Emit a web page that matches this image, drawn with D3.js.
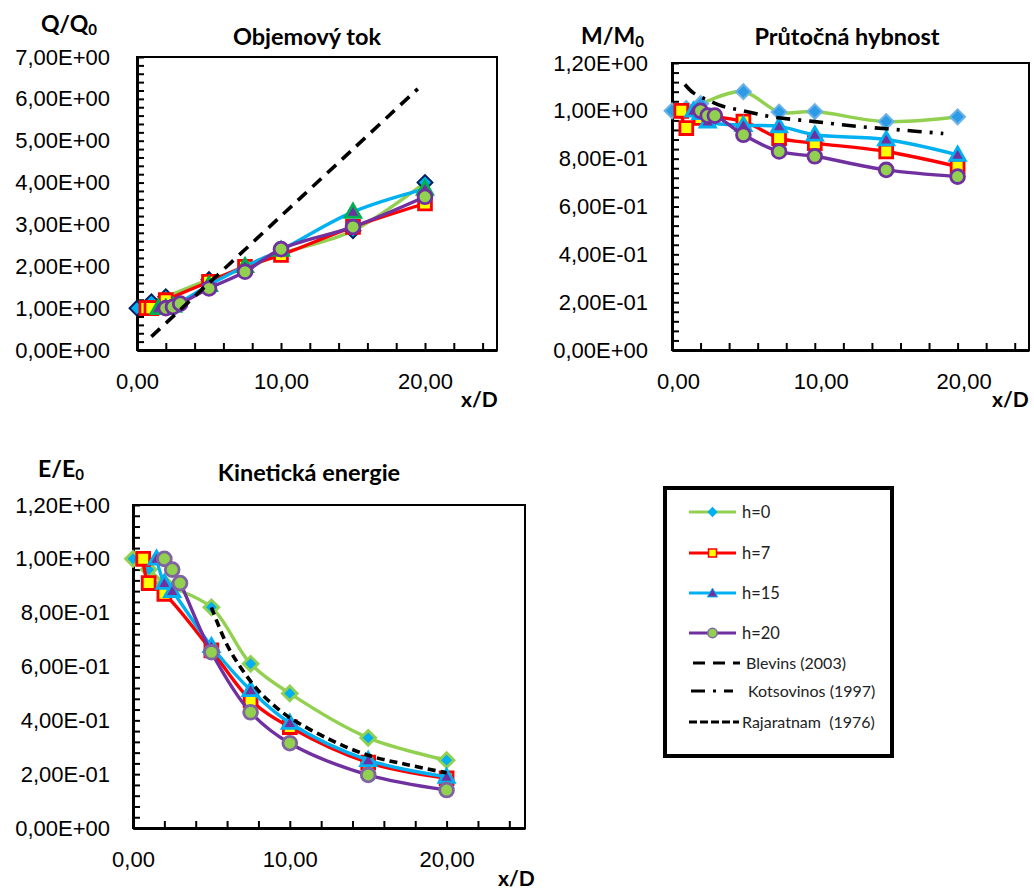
<!DOCTYPE html>
<html>
<head>
<meta charset="utf-8">
<script src="https://cdn.jsdelivr.net/npm/d3@7"></script>
<style>
  body { margin: 0; background: #fff; }
  svg { display: block; font-family: Lato, "Open Sans", sans-serif; }
</style>
</head>
<body>
<svg id="chart" width="1034" height="893"></svg>
<script>
// x/D stations of each nozzle-height series
const xH0  = [0, 1, 2, 5, 7.5, 10, 15, 20];
const xH7  = [0.65, 1, 2, 5, 7.5, 10, 15, 20];
const xH15 = [1.5, 2, 2.5, 5, 7.5, 10, 15, 20];
const xH20 = [2, 2.5, 3, 5, 7.5, 10, 15, 20];

// Volume flux Q/Q0
const qH0  = [1.0, 1.15, 1.27, 1.68, 1.95, 2.3, 2.85, 4.0];
const qH7  = [1.0, 1.0, 1.19, 1.63, 1.99, 2.27, 2.94, 3.5];
const qH15 = [1.0, 1.0, 1.05, 1.55, 2.0, 2.39, 3.3, 3.85];
const qH20 = [1.0, 1.03, 1.11, 1.47, 1.87, 2.41, 2.94, 3.66];

// Momentum flux M/M0
const mH0  = [1.0, 1.01, 1.03, 1.08, 0.995, 0.997, 0.955, 0.975];
const mH7  = [1.0, 0.928, 0.97, 0.955, 0.886, 0.865, 0.83, 0.767];
const mH15 = [1.0, 0.99, 0.955, 0.94, 0.935, 0.90, 0.88, 0.816];
const mH20 = [1.0, 0.98, 0.98, 0.90, 0.83, 0.81, 0.753, 0.725];

// Kinetic energy flux E/E0
const eH0  = [1.0, 0.96, 0.91, 0.82, 0.61, 0.50, 0.335, 0.252];
const eH7  = [1.0, 0.91, 0.87, 0.66, 0.475, 0.375, 0.243, 0.185];
const eH15 = [1.0, 0.91, 0.88, 0.675, 0.512, 0.39, 0.252, 0.19];
const eH20 = [1.0, 0.96, 0.91, 0.653, 0.43, 0.315, 0.197, 0.141];

// Literature curves
const blevinsX = [1, 5, 10, 15, 19.5];
const blevinsQ = [0.32, 1.6, 3.2, 4.8, 6.24];
const kotsX = [0.9, 1.5, 2.5, 3.5, 5, 7, 10, 13, 16, 19];
const kotsM = [1.11, 1.075, 1.045, 1.02, 1.0, 0.975, 0.955, 0.935, 0.92, 0.905];
const rajX = [5, 6, 7, 8, 9, 10, 12.5, 15, 17.5, 20];
const rajE = [0.82, 0.68, 0.585, 0.51, 0.455, 0.41, 0.33, 0.27, 0.235, 0.205];

// Axis ticks and labels
const xTicks = [0, 2, 4, 6, 8, 10, 12, 14, 16, 18, 20, 22, 24];
const xLabels = {0: "0,00", 10: "10,00", 20: "20,00"};
const qTicks = [0, 1, 2, 3, 4, 5, 6, 7];
const qLabels = ["0,00E+00", "1,00E+00", "2,00E+00", "3,00E+00", "4,00E+00", "5,00E+00", "6,00E+00", "7,00E+00"];
const meTicks = [0, 0.2, 0.4, 0.6, 0.8, 1.0, 1.2];
const meLabels = ["0,00E+00", "2,00E-01", "4,00E-01", "6,00E-01", "8,00E-01", "1,00E+00", "1,20E+00"];

const seriesNames = ["h=0", "h=7", "h=15", "h=20"];
const lineColors = ["#92D050", "#FF0000", "#00B0F0", "#7030A0"];

const svg = d3.select("#chart");

// Marker shapes (Excel-style: diamond is a square turned 45°)
const shapes = {
  diamond: s => d3.symbol(d3.symbolSquare, s)(),
  square: s => d3.symbol(d3.symbolSquare, s)(),
  triangle: s => d3.symbol(d3.symbolTriangle, s)(),
  circle: s => d3.symbol(d3.symbolCircle, s)()
};
const shapeOrder = ["diamond", "square", "triangle", "circle"];
const shapeSize = {diamond: 110, square: 165, triangle: 100, circle: 150};

function drawMarker(g, shape, size, x, y, fill, stroke, sw) {
  const p = g.append("path")
    .attr("d", shapes[shape](size))
    .attr("fill", fill).attr("stroke", stroke).attr("stroke-width", sw);
  if (shape === "diamond") p.attr("transform", `translate(${x},${y}) rotate(45)`);
  else if (shape === "triangle") p.attr("transform", `translate(${x},${y + 1})`);
  else p.attr("transform", `translate(${x},${y})`);
}

function panel(cfg) {
  const g = svg.append("g");
  const x = d3.scaleLinear().domain([0, 25]).range([cfg.left, cfg.right]);
  const y = d3.scaleLinear().domain([0, cfg.ymax]).range([cfg.bottom, cfg.top]);

  // plot frame
  g.append("rect")
    .attr("x", cfg.left).attr("y", cfg.top)
    .attr("width", cfg.right - cfg.left).attr("height", cfg.bottom - cfg.top)
    .attr("fill", "none").attr("stroke", "#000").attr("stroke-width", 2);

  // y axis: minor ticks inside, labels at majors
  const yMinor = d3.range(0, Math.round(cfg.ymax / cfg.minor) + 1).map(i => +(i * cfg.minor).toFixed(4));
  const yAx = g.append("g").attr("transform", `translate(${cfg.left},0)`)
    .call(d3.axisLeft(y).tickValues(yMinor).tickSizeInner(-7).tickSizeOuter(0).tickPadding(cfg.yPad)
      .tickFormat(v => {
        const i = cfg.yTicks.findIndex(t => Math.abs(t - v) < 1e-6);
        return i >= 0 ? cfg.yLabels[i] : "";
      }));
  yAx.select(".domain").attr("stroke-width", 3);
  yAx.selectAll(".tick line").attr("stroke-width", 2);
  yAx.selectAll("text").attr("font-size", 22).attr("fill", "#000");

  // x axis
  const xAx = g.append("g").attr("transform", `translate(0,${cfg.bottom})`)
    .call(d3.axisBottom(x).tickValues(xTicks).tickSizeInner(-7).tickSizeOuter(0).tickPadding(cfg.xPad)
      .tickFormat(v => xLabels[v] || ""));
  xAx.select(".domain").attr("stroke-width", 3);
  xAx.selectAll(".tick line").attr("stroke-width", 2);
  xAx.selectAll("text").attr("font-size", 22).attr("fill", "#000")
    .attr("dx", cfg.xLabelShift || 0);

  const line = d3.line().x(d => x(d[0])).y(d => y(d[1])).curve(d3.curveCatmullRom.alpha(0.5));

  // measured series: line then markers
  cfg.series.forEach((vals, i) => {
    const pts = cfg.xs[i].map((xv, k) => [xv, vals[k]]);
    g.append("path").datum(pts).attr("d", line)
      .attr("fill", "none").attr("stroke", lineColors[i]).attr("stroke-width", 3.4)
      .attr("stroke-linejoin", "round");
    const m = cfg.markers[i];
    const shape = shapeOrder[i];
    pts.forEach(p => drawMarker(g, shape, shapeSize[shape], x(p[0]), y(p[1]), m.fill, m.stroke, m.sw));
  });

  // literature curve
  const refPts = cfg.ref.x.map((xv, k) => [xv, cfg.ref.y[k]]);
  g.append("path").datum(refPts).attr("d", line)
    .attr("fill", "none").attr("stroke", "#000").attr("stroke-width", 3.6)
    .attr("stroke-dasharray", cfg.ref.dash);

  // titles
  g.append("text").attr("x", cfg.titleX).attr("y", cfg.titleY)
    .attr("text-anchor", "middle").attr("font-size", 23.5).attr("font-weight", "bold").text(cfg.title);
  const yl = g.append("text").attr("x", cfg.ylabX).attr("y", cfg.ylabY)
    .attr("font-size", 23).attr("font-weight", "bold");
  yl.append("tspan").text(cfg.ylab);
  yl.append("tspan").attr("font-size", 15).attr("dy", 3).text("0");
  g.append("text").attr("x", cfg.xlabX).attr("y", cfg.xlabY)
    .attr("font-size", 21).attr("font-weight", "bold").text("x/D");
}

const mk = (f, s, w) => ({fill: f, stroke: s, sw: w});

panel({
  left: 137, right: 497, top: 57, bottom: 350, ymax: 7, minor: 0.2,
  yTicks: qTicks, yLabels: qLabels, yPad: 27, xPad: 23,
  xs: [xH0, xH7, xH15, xH20], series: [qH0, qH7, qH15, qH20],
  markers: [mk("#00B0F0", "#002060", 2), mk("#FFFF00", "#FF0000", 2.8), mk("#7030A0", "#00B050", 2.8), mk("#92D050", "#7030A0", 2.8)],
  ref: {x: blevinsX, y: blevinsQ, dash: "12,8"},
  title: "Objemový tok", titleX: 307, titleY: 45,
  ylab: "Q/Q", ylabX: 41, ylabY: 32, xlabX: 461, xlabY: 407
});

panel({
  left: 672, right: 1029, top: 63, bottom: 350, ymax: 1.2, minor: 0.04,
  yTicks: meTicks, yLabels: meLabels, yPad: 24, xPad: 23, xLabelShift: 6,
  xs: [xH0, xH7, xH15, xH20], series: [mH0, mH7, mH15, mH20],
  markers: [mk("#2C9BE6", "#6DB2E6", 2), mk("#FFFF00", "#FF0000", 2.8), mk("#7030A0", "#00B0F0", 2.8), mk("#92D050", "#7030A0", 2.8)],
  ref: {x: kotsX, y: kotsM, dash: "14,8,3,8"},
  title: "Průtočná hybnost", titleX: 847, titleY: 45,
  ylab: "M/M", ylabX: 581, ylabY: 44, xlabX: 992, xlabY: 407
});

panel({
  left: 133, right: 525, top: 505, bottom: 828, ymax: 1.2, minor: 0.04,
  yTicks: meTicks, yLabels: meLabels, yPad: 23, xPad: 23,
  xs: [xH0, xH7, xH15, xH20], series: [eH0, eH7, eH15, eH20],
  markers: [mk("#00B0F0", "#92D050", 2.8), mk("#FFFF00", "#FF0000", 2.8), mk("#7030A0", "#00B0F0", 2.8), mk("#92D050", "#8064A2", 2.8)],
  ref: {x: rajX, y: rajE, dash: "8,5"},
  title: "Kinetická energie", titleX: 309, titleY: 481,
  ylab: "E/E", ylabX: 38, ylabY: 477, xlabX: 498, xlabY: 886
});

// legend
const lg = svg.append("g");
lg.append("rect").attr("x", 665).attr("y", 488).attr("width", 227).attr("height", 268)
  .attr("fill", "#fff").attr("stroke", "#000").attr("stroke-width", 4);
const legMarkers = [mk("#00B0F0", "#00B0F0", 1), mk("#FFFF00", "#FF0000", 1.5), mk("#7030A0", "#00B0F0", 1), mk("#92D050", "#8064A2", 1.5)];
const legSize = {diamond: 40, square: 64, triangle: 45, circle: 70};
const legY = [512, 553, 593, 633];
seriesNames.forEach((name, i) => {
  lg.append("line").attr("x1", 689).attr("x2", 736).attr("y1", legY[i]).attr("y2", legY[i])
    .attr("stroke", lineColors[i]).attr("stroke-width", 3);
  drawMarker(lg, shapeOrder[i], legSize[shapeOrder[i]], 712.5, legY[i], legMarkers[i].fill, legMarkers[i].stroke, legMarkers[i].sw);
  lg.append("text").attr("x", 742).attr("y", legY[i]).attr("dy", "0.36em")
    .attr("font-size", 16.5).attr("fill", "#222").text(name);
});
const refNames = ["Blevins (2003)", " Kotsovinos (1997)", "Rajaratnam  (1976)"];
const refDash = ["12,8", "14,8,3,8", "8,3"];
const refY = [663, 691, 722];
const refX = [[693, 740], [691, 733], [689, 739]];
const refTx = [746, 744, 742];
refNames.forEach((name, i) => {
  lg.append("line").attr("x1", refX[i][0]).attr("x2", refX[i][1]).attr("y1", refY[i]).attr("y2", refY[i])
    .attr("stroke", "#000").attr("stroke-width", 3).attr("stroke-dasharray", refDash[i]);
  lg.append("text").attr("x", refTx[i]).attr("y", refY[i]).attr("dy", "0.36em")
    .attr("font-size", 16).attr("fill", "#222").attr("xml:space", "preserve").style("white-space", "pre").text(name);
});
</script>
</body>
</html>
